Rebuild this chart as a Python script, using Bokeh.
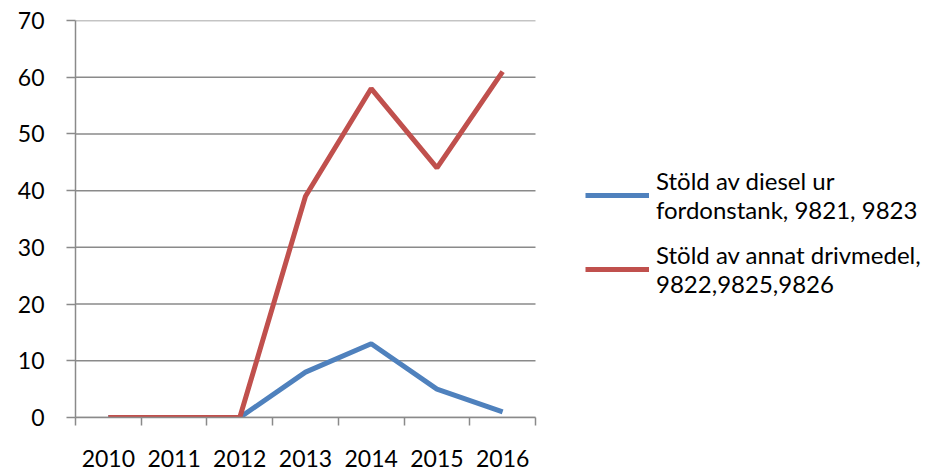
import numpy as np
from bokeh.plotting import figure
from bokeh.models import Range1d, FixedTicker, Legend, LegendItem
from bokeh.embed import file_html
from bokeh.resources import INLINE

years = ["2010", "2011", "2012", "2013", "2014", "2015", "2016"]
diesel = [0, 0, 0, 8, 13, 5, 1]
annat = [0, 0, 0, 39, 58, 44, 61]
y_ticks = [0, 10, 20, 30, 40, 50, 60, 70]
label_diesel = "Stöld av diesel ur\nfordonstank, 9821, 9823"
label_annat = "Stöld av annat drivmedel,\n9822,9825,9826"

FONT = "Lato"
GREY = "#8a8a8a"

W, H = 935, 470
LEFT, RIGHT, TOP, BOTTOM = 75, 0, 20, 53
PLOT_W = 460  # pixel width of the data area; the rest of the frame holds the legend

n = len(years)
xs = np.arange(n) + 0.5
x_end = n * (W - LEFT - RIGHT) / PLOT_W

p = figure(width=W, height=H, output_backend="svg", toolbar_location=None,
           x_range=Range1d(0, x_end), y_range=Range1d(0, 70),
           min_border_left=LEFT, min_border_right=RIGHT,
           min_border_top=TOP, min_border_bottom=BOTTOM)
p.outline_line_color = None
p.background_fill_color = "white"
p.border_fill_color = "white"

# x axis: labels at centres, ticks (minor) at category boundaries
xa = p.xaxis[0]
xa.bounds = (0, n)
xa.ticker = FixedTicker(ticks=list(xs), minor_ticks=list(range(n + 1)))
xa.major_label_overrides = {float(x): y for x, y in zip(xs, years)}
xa.major_tick_out = 0
xa.major_tick_in = 0
xa.minor_tick_out = 8
xa.minor_tick_in = 0
xa.minor_tick_line_color = GREY
xa.minor_tick_line_width = 1.5
xa.axis_line_color = GREY
xa.axis_line_width = 1.5
xa.major_label_text_font = FONT
xa.major_label_text_font_size = "23px"
xa.major_label_text_color = "black"
xa.major_label_standoff = 24

ya = p.yaxis[0]
ya.ticker = FixedTicker(ticks=y_ticks)
ya.major_tick_out = 9
ya.major_tick_in = 0
ya.minor_tick_out = 0
ya.minor_tick_in = 0
ya.major_tick_line_color = GREY
ya.major_tick_line_width = 1.5
ya.axis_line_color = GREY
ya.axis_line_width = 1.5
ya.major_label_text_font = FONT
ya.major_label_text_font_size = "23px"
ya.major_label_text_color = "black"
ya.major_label_standoff = 22

p.xgrid.grid_line_color = None
p.ygrid.grid_line_color = None

# horizontal gridlines limited to the data area
p.segment(x0=[0] * len(y_ticks), x1=[n] * len(y_ticks), y0=y_ticks, y1=y_ticks,
          line_color=GREY, line_width=1.5)

r_blue = p.line(xs, diesel, line_color="#4F81BD", line_width=5)
r_red = p.line(xs, annat, line_color="#C0504D", line_width=5)

legend = Legend(items=[LegendItem(label=label_diesel, renderers=[r_blue]),
                       LegendItem(label=label_annat, renderers=[r_red])],
                location=(PLOT_W + 50, 119))
legend.label_text_font = FONT
legend.label_text_font_size = "24px"
legend.label_text_color = "black"
legend.glyph_width = 64
legend.glyph_height = 24
legend.label_standoff = 7
legend.spacing = 16
legend.padding = 0
legend.margin = 0
legend.border_line_alpha = 0
legend.background_fill_alpha = 0
p.add_layout(legend, "center")

open("out.html", "w").write(file_html(p, INLINE))
